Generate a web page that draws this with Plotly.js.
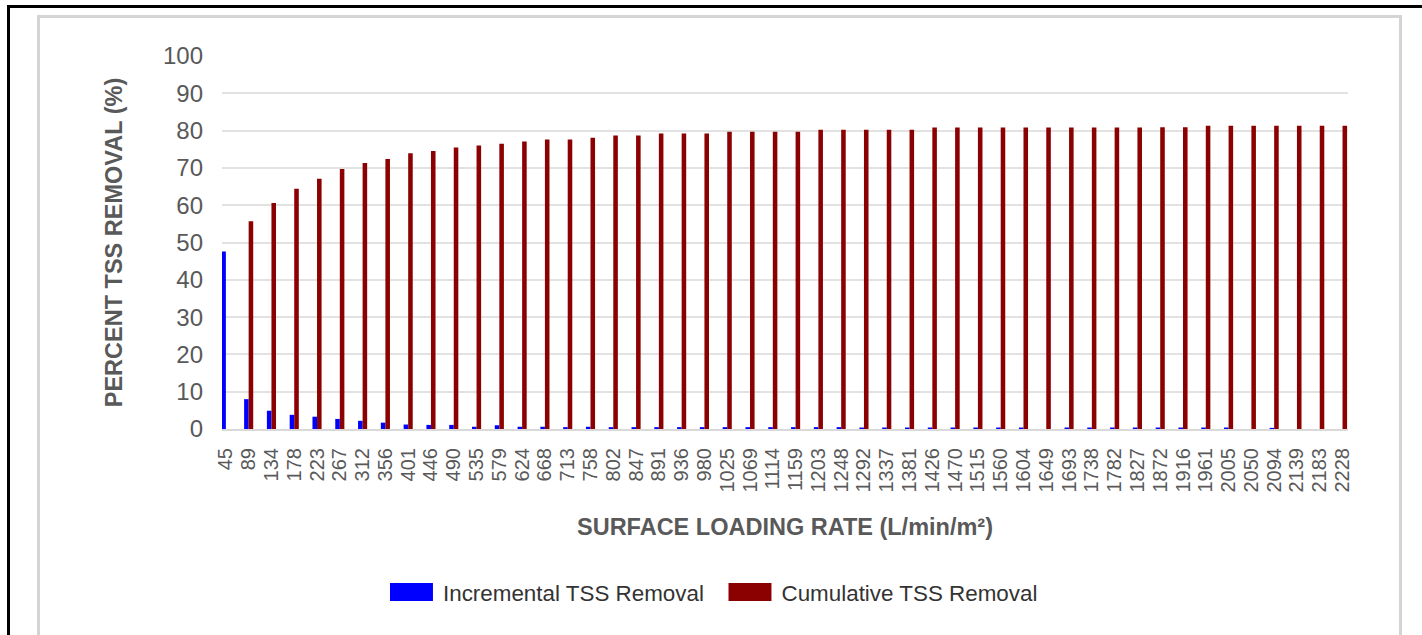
<!DOCTYPE html>
<html>
<head>
<meta charset="utf-8">
<script src="https://cdn.plot.ly/plotly-3.0.1.min.js"></script>
<style>
html,body{margin:0;padding:0;overflow:hidden;background:#fff;width:1422px;height:635px}
#chart{position:absolute;left:0;top:0;width:1422px;height:635px}
#frame{position:absolute;left:7px;top:5px;width:3000px;height:3000px;border-top:3px solid #000;border-left:3px solid #000;pointer-events:none}
#panel{position:absolute;left:37px;top:15px;width:1359px;height:3000px;border:3px solid #d4d4d4;pointer-events:none}
</style>
</head>
<body>
<div id="chart"></div>
<div id="frame"></div>
<div id="panel"></div>
<script>
// Surface loading rate categories (L/min/m²)
const loadingRates = ["45","89","134","178","223","267","312","356","401","446",
  "490","535","579","624","668","713","758","802","847","891",
  "936","980","1025","1069","1114","1159","1203","1248","1292","1337",
  "1381","1426","1470","1515","1560","1604","1649","1693","1738","1782",
  "1827","1872","1916","1961","2005","2050","2094","2139","2183","2228"];

// Incremental TSS removal (%)
const incremental = [47.6, 8.0, 4.9, 3.8, 3.3, 2.7, 2.2, 1.7, 1.2, 1.1,
  1.1, 0.6, 1.0, 0.6, 0.6, 0.5, 0.6, 0.5, 0.5, 0.5,
  0.5, 0.5, 0.5, 0.5, 0.5, 0.5, 0.5, 0.5, 0.4, 0.4,
  0.4, 0.4, 0.4, 0.4, 0.4, 0.4, 0, 0.4, 0.4, 0.4,
  0.4, 0.4, 0.4, 0.4, 0.4, 0, 0.3, 0, 0, 0];

// Cumulative TSS removal (%) — first bar not drawn in the reference
const cumulative = [null, 55.7, 60.6, 64.4, 67.1, 69.7, 71.3, 72.4, 73.9, 74.5,
  75.5, 76.0, 76.5, 77.1, 77.6, 77.6, 78.1, 78.7, 78.7, 79.2,
  79.2, 79.2, 79.7, 79.7, 79.7, 79.7, 80.2, 80.2, 80.2, 80.2,
  80.2, 80.8, 80.8, 80.8, 80.8, 80.8, 80.8, 80.8, 80.8, 80.8,
  80.8, 80.9, 80.9, 81.3, 81.3, 81.3, 81.3, 81.3, 81.3, 81.3];

const seriesNames = ["Incremental TSS Removal", "Cumulative TSS Removal"];

const FONT = "Liberation Sans, Arial, sans-serif";
const GREY = "#595959";

const traces = [
  {type: "bar", name: seriesNames[0], x: loadingRates, y: incremental,
   marker: {color: "#0000ff", line: {width: 0}}},
  {type: "bar", name: seriesNames[1], x: loadingRates, y: cumulative,
   marker: {color: "#8b0000", line: {width: 0}}}
];

const layout = {
  width: 1422, height: 635,
  margin: {l: 222, r: 74, t: 56, b: 206, pad: 0},
  paper_bgcolor: "#ffffff", plot_bgcolor: "#ffffff",
  font: {family: FONT, color: GREY},
  barmode: "group", bargap: 0.6, bargroupgap: 0,
  showlegend: true,
  legend: {
    orientation: "h", x: 0.1403, xanchor: "left", y: -0.438, yanchor: "middle",
    font: {family: FONT, size: 22.4, color: "#333333"}, itemwidth: 53,
    entrywidth: 270.5,
    bgcolor: "rgba(0,0,0,0)", traceorder: "normal"
  },
  xaxis: {
    type: "category", range: [-0.17, 49.24], automargin: false,
    tickmode: "linear", tick0: 0, dtick: 1,
    tickangle: -90, tickfont: {family: FONT, size: 20, color: GREY},
    ticks: "", showgrid: false, zeroline: false,
    showline: true, linecolor: "#d9d9d9", linewidth: 2,
    ticklabelstandoff: 9,
    title: {text: "SURFACE LOADING RATE (L/min/m²)", standoff: 27,
            font: {family: FONT, size: 23.5, color: GREY, weight: "bold"}}
  },
  yaxis: {
    range: [0, 100], dtick: 10, automargin: false,
    tickfont: {family: FONT, size: 24, color: GREY},
    ticks: "", showgrid: true, gridcolor: "#e2e2e2", gridwidth: 2,
    zeroline: false, showline: false, ticklabelstandoff: 18,
    title: {text: "PERCENT TSS REMOVAL (%)", standoff: 33,
            font: {family: FONT, size: 23.5, color: GREY, weight: "bold"}}
  }
};

Plotly.newPlot("chart", traces, layout, {displayModeBar: false, staticPlot: true}).then(function(gd) {
  gd.querySelectorAll(".legendpoints path").forEach(function(p) {
    const t = p.getAttribute("transform") || "";
    p.setAttribute("transform", t + " scale(3.58,1.5)");
  });
});
</script>
</body>
</html>
